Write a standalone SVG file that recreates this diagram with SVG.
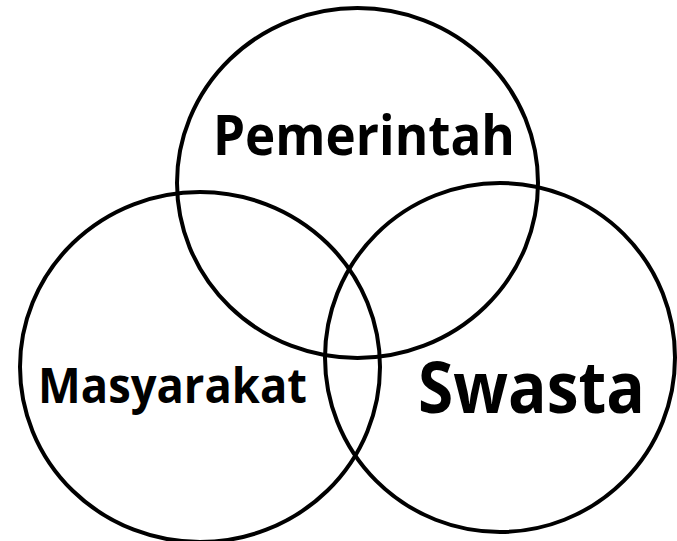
<svg xmlns="http://www.w3.org/2000/svg" width="677" height="541" viewBox="0 0 677 541">
<style>
.c{fill:none;stroke:#000;stroke-width:4}
.t{font-family:"Open Sans","Noto Sans","DejaVu Sans",sans-serif;font-weight:bold;fill:#000}
</style>
<rect width="677" height="541" fill="#fff"/>
<g id="pemerintah">
<ellipse class="c" cx="357.5" cy="183" rx="180.5" ry="175"/>
<text class="t" x="213" y="155" font-size="56" textLength="302" lengthAdjust="spacingAndGlyphs">Pemerintah</text>
</g>
<g id="masyarakat">
<ellipse class="c" cx="200" cy="367" rx="180" ry="175"/>
<text class="t" x="38" y="403" font-size="49" textLength="269" lengthAdjust="spacingAndGlyphs">Masyarakat</text>
</g>
<g id="swasta">
<ellipse class="c" cx="500" cy="357.5" rx="175" ry="174.5"/>
<text class="t" x="418" y="413" font-size="71" textLength="227" lengthAdjust="spacingAndGlyphs">Swasta</text>
</g>
<g id="connectors"/>
</svg>
